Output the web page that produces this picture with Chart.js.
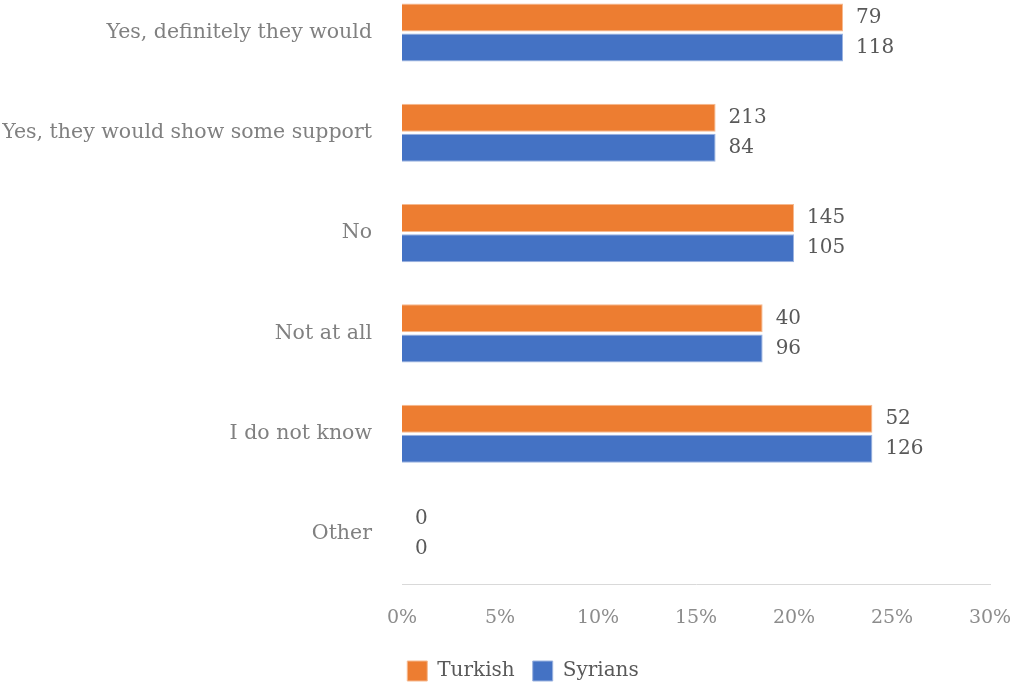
<!DOCTYPE html>
<html>
<head>
<meta charset="utf-8">
<script src="https://cdn.jsdelivr.net/npm/chart.js@4"></script>
<style>
  html, body { margin: 0; padding: 0; background: #fff; overflow: hidden; }
  #wrap { position: absolute; left: 0; top: -52px; width: 1014px; height: 743px; }
</style>
</head>
<body>
<div id="wrap"><canvas id="chart"></canvas></div>
<script>
// categories and values
const categories = [
  "Yes, definitely they would",
  "Yes, they would show some support",
  "No",
  "Not at all",
  "I do not know",
  "Other",
];
const turkishPct = [22.5, 16.0, 20.0, 18.4, 24.0, 0];
const syrianPct = [22.5, 16.0, 20.0, 18.4, 24.0, 0];
const turkishCounts = [79, 213, 145, 40, 52, 0];
const syrianCounts = [118, 84, 105, 96, 126, 0];
const xTicks = [0, 5, 10, 15, 20, 25, 30];

const FONT = "'DejaVu Serif', serif";

// draws the count next to the end of each bar
const countLabels = {
  id: "countLabels",
  afterDatasetsDraw(chart) {
    const ctx = chart.ctx;
    const counts = [turkishCounts, syrianCounts];
    ctx.save();
    ctx.font = "20px " + FONT;
    ctx.fillStyle = "#595959";
    ctx.textAlign = "left";
    ctx.textBaseline = "middle";
    chart.data.datasets.forEach((ds, di) => {
      const meta = chart.getDatasetMeta(di);
      meta.data.forEach((bar, i) => {
        ctx.fillText(String(counts[di][i]), bar.x + 13, bar.y);
      });
    });
    ctx.restore();
  },
};

// nudge the legend a little right, the original sits off-centre
const legendNudge = {
  id: "legendNudge",
  afterLayout(chart) {
    if (!chart.legend) return;
    chart.legend.left += 16;
    chart.legend.right += 16;
  },
};

new Chart(document.getElementById("chart"), {
  type: "bar",
  data: {
    labels: categories,
    datasets: [
      { label: "Turkish", data: turkishPct, backgroundColor: "#ED7D31", borderColor: "#f6b98f", borderWidth: 1 },
      { label: "Syrians", data: syrianPct, backgroundColor: "#4472C4", borderColor: "#9bb3e0", borderWidth: 1 },
    ],
  },
  options: {
    indexAxis: "y",
    responsive: true,
    maintainAspectRatio: false,
    animation: false,
    categoryPercentage: 0.6,
    barPercentage: 0.93,
    layout: { padding: { left: 0, right: 0, top: 0, bottom: 0 } },
    scales: {
      x: {
        min: 0,
        max: 30,
        afterBuildTicks: (axis) => { axis.ticks = xTicks.map((v) => ({ value: v })); },
        afterFit: (scale) => { scale.paddingRight = 24; },
        grid: { display: false },
        border: { display: true, color: "#d9d9d9", width: 1 },
        ticks: {
          color: "#8c8c8c",
          font: { family: FONT, size: 19 },
          padding: 14,
          callback: (v) => v + "%",
        },
      },
      y: {
        afterFit: (scale) => { scale.width = 402; },
        grid: { display: false },
        border: { display: false },
        ticks: {
          color: "#808080",
          font: { family: FONT, size: 20.5 },
          padding: 22,
        },
      },
    },
    plugins: {
      legend: {
        position: "bottom",
        labels: {
          boxWidth: 20,
          boxHeight: 20,
          color: "#595959",
          font: { family: FONT, size: 20 },
          padding: 18,
        },
      },
      tooltip: { enabled: false },
    },
  },
  plugins: [countLabels, legendNudge],
});
</script>
</body>
</html>
